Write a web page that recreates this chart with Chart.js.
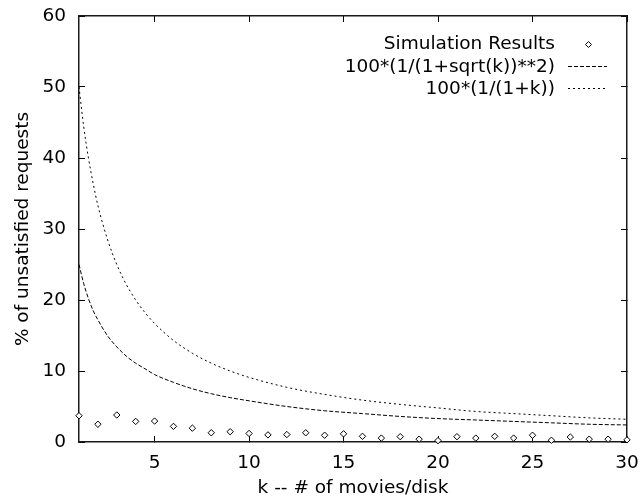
<!DOCTYPE html>
<html>
<head>
<meta charset="utf-8">
<script src="https://cdn.jsdelivr.net/npm/chart.js@4/dist/chart.umd.min.js"></script>
<style>
html,body{margin:0;padding:0;background:#fff;}
#wrap{width:640px;height:500px;}
</style>
</head>
<body>
<div id="wrap"><canvas id="c" width="640" height="500"></canvas></div>
<script>
const seriesLabels = ['Simulation Results', '100*(1/(1+sqrt(k))**2)', '100*(1/(1+k))'];
const xTitle = 'k -- # of movies/disk';
const yTitle = '% of unsatisfied requests';

const kValues = [1,2,3,4,5,6,7,8,9,10,11,12,13,14,15,16,17,18,19,20,21,22,23,24,25,26,27,28,29,30];
const simResults = [3.7,2.5,3.8,2.9,2.95,2.2,1.95,1.3,1.45,1.2,1.0,1.05,1.3,0.95,1.15,0.8,0.55,0.75,0.4,0.2,0.75,0.55,0.8,0.55,0.95,0.25,0.7,0.4,0.4,0.3];

const curveK = [1,1.25,1.5,1.75,2,2.5,3,3.5,4,4.5,5,6,7,8,9,10,12,14,16,18,20,22,24,26,28,30];
const sqrtCurve = [25,22.3,20.2,18.5,17.2,15.0,13.4,12.1,11.1,10.3,9.5,8.4,7.5,6.8,6.25,5.8,5.0,4.4,4.0,3.6,3.3,3.1,2.9,2.7,2.5,2.4];
const invCurve = [50,44.4,40,36.4,33.3,28.6,25,22.2,20,18.2,16.7,14.3,12.5,11.1,10,9.1,7.7,6.7,5.9,5.3,4.8,4.3,4.0,3.7,3.4,3.2];

const xTicks = [5,10,15,20,25,30];
const yTicks = [0,10,20,30,40,50,60];

const FONT = '"DejaVu Sans", Verdana, sans-serif';
const dashPatterns = [[], [4,2], [2,3]];

const legendPlugin = {
  id: 'gnuLegend',
  afterDraw(chart) {
    const ctx = chart.ctx;
    const a = chart.chartArea;
    ctx.save();
    const rows = [a.top + 27.5, a.top + 50, a.top + 72];
    const textRight = a.right - 72;
    const sx0 = a.right - 59, sx1 = a.right - 20;
    ctx.font = '18.5px ' + FONT;
    ctx.textAlign = 'right';
    ctx.textBaseline = 'middle';
    chart.data.datasets.forEach((ds, i) => {
      const y = rows[i];
      ctx.fillStyle = '#000';
      ctx.fillText(ds.label, textRight, y + 1);
      ctx.strokeStyle = '#000';
      ctx.lineWidth = 1;
      if (i === 0) {
        const cx = Math.round((sx0 + sx1) / 2) + 0.5, r = 3, cy = Math.round(y) + 0.5;
        ctx.beginPath();
        ctx.moveTo(cx, cy - r); ctx.lineTo(cx + r, cy); ctx.lineTo(cx, cy + r); ctx.lineTo(cx - r, cy); ctx.closePath();
        ctx.fillStyle = '#fff'; ctx.fill();
        ctx.stroke();
      } else {
        ctx.setLineDash(dashPatterns[i]);
        ctx.beginPath();
        ctx.moveTo(sx0, Math.round(y) + 0.5); ctx.lineTo(sx1, Math.round(y) + 0.5);
        ctx.stroke();
        ctx.setLineDash([]);
      }
    });
    ctx.restore();
  }
};

const gridCfg = {display: true, drawOnChartArea: false, drawTicks: true, tickLength: -6, color: '#000', tickColor: '#000', lineWidth: 1};
const borderCfg = {display: true, color: '#1a1a1a', width: 1.5};

new Chart(document.getElementById('c'), {
  type: 'scatter',
  data: {
    datasets: [
      {
        label: seriesLabels[0],
        data: kValues.map((k, i) => ({x: k, y: simResults[i]})),
        pointStyle: 'rectRot',
        pointRadius: 3.2,
        pointBorderWidth: 1,
        pointBorderColor: '#000',
        pointBackgroundColor: '#fff',
        showLine: false,
        clip: false,
        order: 0
      },
      {
        label: seriesLabels[1],
        data: curveK.map((k, i) => ({x: k, y: sqrtCurve[i]})),
        showLine: true,
        borderColor: '#000',
        borderWidth: 1,
        borderDash: dashPatterns[1],
        pointRadius: 0,
        cubicInterpolationMode: 'monotone',
        order: 1
      },
      {
        label: seriesLabels[2],
        data: curveK.map((k, i) => ({x: k, y: invCurve[i]})),
        showLine: true,
        borderColor: '#000',
        borderWidth: 1,
        borderDash: dashPatterns[2],
        pointRadius: 0,
        cubicInterpolationMode: 'monotone',
        order: 2
      }
    ]
  },
  options: {
    responsive: false,
    animation: false,
    devicePixelRatio: 1,
    layout: {padding: {top: 16, right: 13, left: 0, bottom: 0}},
    plugins: {legend: {display: false}, tooltip: {enabled: false}},
    scales: {
      x: {
        type: 'linear', position: 'bottom', min: 1, max: 30,
        afterBuildTicks: s => { s.ticks = xTicks.map(v => ({value: v})); },
        afterFit: s => { s.height = 58; s.paddingLeft = 0; s.paddingRight = 0; },
        grid: gridCfg,
        border: borderCfg,
        ticks: {color: '#000', font: {family: FONT, size: 18.5}, padding: 16, maxRotation: 0, autoSkip: false},
        title: {display: true, text: xTitle, color: '#000', font: {family: FONT, size: 18.5}, padding: {top: 0, bottom: 1}}
      },
      x2: {
        type: 'linear', position: 'top', min: 1, max: 30,
        afterBuildTicks: s => { s.ticks = xTicks.map(v => ({value: v})); },
        afterFit: s => { s.height = 0; s.paddingLeft = 0; s.paddingRight = 0; },
        grid: gridCfg,
        border: borderCfg,
        ticks: {display: false}
      },
      y: {
        type: 'linear', position: 'left', min: 0, max: 60,
        afterBuildTicks: s => { s.ticks = yTicks.map(v => ({value: v})); },
        afterFit: s => { s.width = 79; s.paddingTop = 0; s.paddingBottom = 0; },
        grid: gridCfg,
        border: borderCfg,
        ticks: {color: '#000', font: {family: FONT, size: 18.5}, padding: 19, autoSkip: false},
        title: {display: true, text: yTitle, color: '#000', font: {family: FONT, size: 18.5}, padding: {top: 12, bottom: 0}}
      },
      y2: {
        type: 'linear', position: 'right', min: 0, max: 60,
        afterBuildTicks: s => { s.ticks = yTicks.map(v => ({value: v})); },
        afterFit: s => { s.width = 0; s.paddingTop = 0; s.paddingBottom = 0; },
        grid: gridCfg,
        border: borderCfg,
        ticks: {display: false}
      }
    }
  },
  plugins: [legendPlugin]
});
</script>
</body>
</html>
